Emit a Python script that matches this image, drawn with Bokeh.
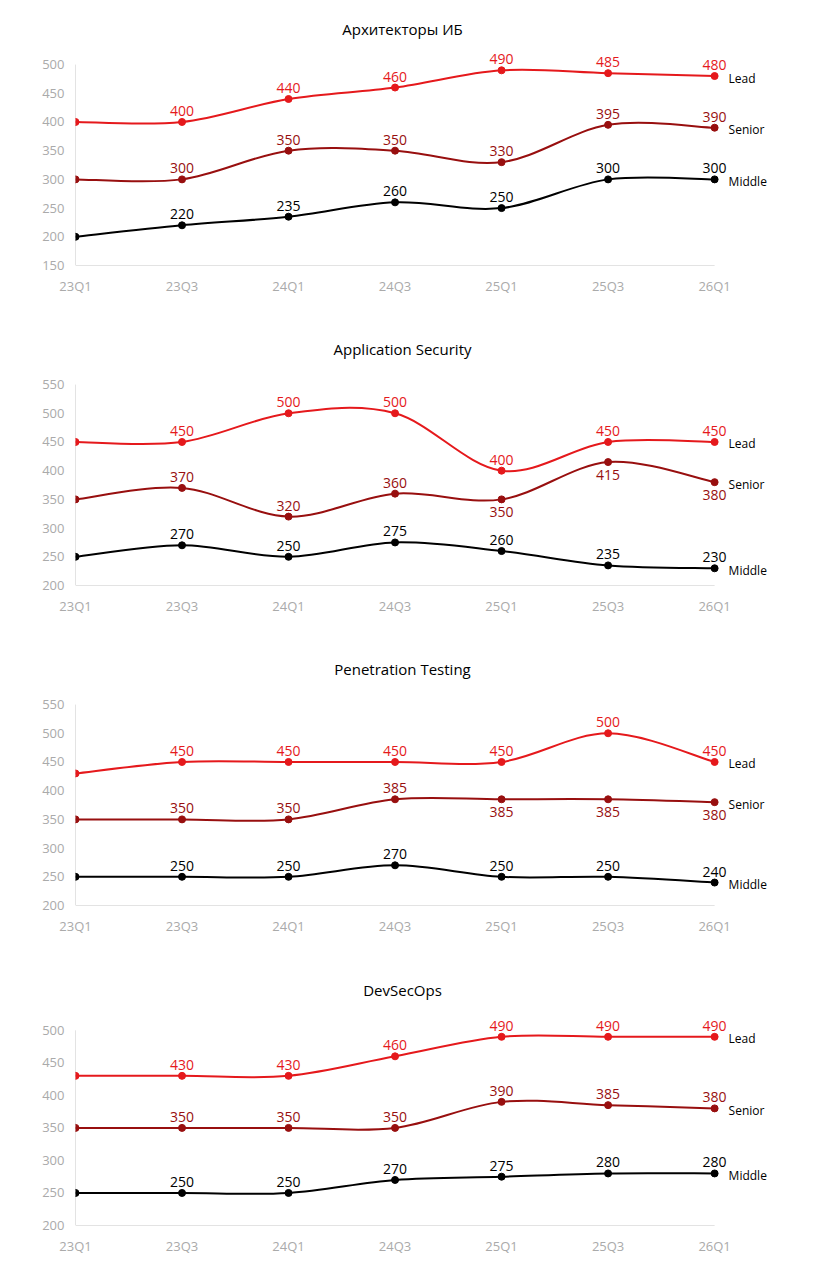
from bokeh.plotting import figure
from bokeh.layouts import column
from bokeh.models import FixedTicker, Range1d
from bokeh.core.properties import value
from bokeh.embed import file_html
from bokeh.resources import INLINE

quarters = ["23Q1", "23Q3", "24Q1", "24Q3", "25Q1", "25Q3", "26Q1"]
titles = ["Архитекторы ИБ", "Application Security", "Penetration Testing", "DevSecOps"]
lead = [[400,400,440,460,490,485,480],[450,450,500,500,400,450,450],[430,450,450,450,450,500,450],[430,430,430,460,490,490,490]]
senior = [[300,300,350,350,330,395,390],[350,370,320,360,350,415,380],[350,350,350,385,385,385,380],[350,350,350,350,390,385,380]]
middle = [[200,220,235,260,250,300,300],[250,270,250,275,260,235,230],[250,250,250,270,250,250,240],[250,250,250,270,275,280,280]]
senior_below = [[], [4,5,6], [4,5,6], []]
y_ranges = [(150,500),(200,550),(200,550),(200,500)]
names = ["Lead", "Senior", "Middle"]
colors = ["#e5191c", "#980f0f", "#000000"]
F = "Open Sans"

figs = []
for k in range(4):
    ymin, ymax = y_ranges[k]
    p = figure(width=806, height=318, output_backend="svg", toolbar_location=None,
               x_range=Range1d(0, 6.75), y_range=Range1d(ymin, ymax + 75),
               min_border_left=75, min_border_right=12, min_border_top=21, min_border_bottom=53)
    p.outline_line_color = None
    p.grid.visible = False
    for ax in (p.xaxis, p.yaxis):
        ax.axis_line_color = None; ax.major_tick_line_color = None; ax.minor_tick_line_color = None
        ax.major_label_text_color = "#aaaaaa"; ax.major_label_text_font = F
        ax.major_label_text_font_size = "13px"
    p.xaxis.ticker = FixedTicker(ticks=list(range(7)))
    p.xaxis.major_label_overrides = {i: q for i, q in enumerate(quarters)}
    p.yaxis.ticker = FixedTicker(ticks=list(range(ymin, ymax + 1, 50)))
    p.segment(x0=[0, 0], y0=[ymin, ymin], x1=[0, 6], y1=[ymax, ymin], line_color="#c8c8c8", line_width=1)
    p.text([3.07], [ymax + 62], text=[titles[k]], text_align="center", text_baseline="middle",
           text_color="#000000", text_font=value(F), text_font_size="15px")
    for s, ys in enumerate([lead[k], senior[k], middle[k]]):
        c = colors[s]
        n = len(ys); xs = list(range(n))
        x0, y0, x1, y1, cx0, cy0, cx1, cy1 = [], [], [], [], [], [], [], []
        for i in range(n - 1):
            pm = max(i - 1, 0); pp = min(i + 2, n - 1)
            x0.append(xs[i]); y0.append(ys[i]); x1.append(xs[i+1]); y1.append(ys[i+1])
            cx0.append(xs[i] + (xs[i+1] - xs[pm]) / 6); cy0.append(ys[i] + (ys[i+1] - ys[pm]) / 6)
            cx1.append(xs[i+1] - (xs[pp] - xs[i]) / 6); cy1.append(ys[i+1] - (ys[pp] - ys[i]) / 6)
        p.bezier(x0=x0, y0=y0, x1=x1, y1=y1, cx0=cx0, cy0=cy0, cx1=cx1, cy1=cy1, line_color=c, line_width=2)
        p.scatter(xs, ys, size=7, color=c)
        below = senior_below[k] if s == 1 else []
        ax_ = [xs[i] for i in range(1, n) if i not in below]
        ay_ = [ys[i] for i in range(1, n) if i not in below]
        p.text(ax_, ay_, text=[str(v) for v in ay_], text_align="center", text_baseline="bottom",
               y_offset=-6, text_color=c, text_font=value(F), text_font_size="14px")
        if below:
            bx = [xs[i] for i in below]; by = [ys[i] for i in below]
            p.text(bx, by, text=[str(v) for v in by], text_align="center", text_baseline="top",
                   y_offset=8, text_color=c, text_font=value(F), text_font_size="14px")
        p.text([xs[-1]], [ys[-1]], text=[names[s]], text_align="left", text_baseline="middle",
               x_offset=14, y_offset=2, text_color="#000000", text_font=value(F), text_font_size="12px")
    figs.append(p)

layout = column(*figs, spacing=2)
open("out.html", "w").write(file_html(layout, INLINE))
